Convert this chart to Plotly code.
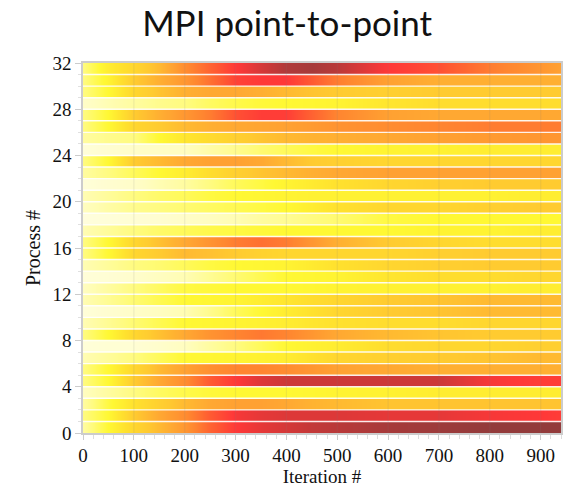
import numpy as np
import plotly.graph_objects as go

# iteration columns at which the colour of each process row was read
iterations = [0, 50, 100, 150, 200, 250, 300, 350, 400, 450, 500, 600, 700, 800, 900, 940]

# relative waiting time (0 = none, 1 = max) for process 0 .. 31
load = [
    [0.15, 0.30, 0.45, 0.55, 0.65, 0.78, 0.87, 0.90, 0.92, 0.94, 0.95, 0.97, 0.98, 0.99, 0.99, 0.99],  # 0
    [0.20, 0.30, 0.50, 0.60, 0.68, 0.80, 0.88, 0.90, 0.91, 0.91, 0.91, 0.90, 0.90, 0.88, 0.87, 0.86],  # 1
    [0.15, 0.28, 0.40, 0.48, 0.55, 0.60, 0.62, 0.62, 0.60, 0.57, 0.55, 0.52, 0.52, 0.52, 0.52, 0.52],  # 2
    [0.10, 0.15, 0.20, 0.24, 0.27, 0.29, 0.30, 0.30, 0.30, 0.31, 0.32, 0.33, 0.35, 0.35, 0.35, 0.35],  # 3
    [0.20, 0.30, 0.50, 0.60, 0.68, 0.80, 0.87, 0.91, 0.93, 0.93, 0.93, 0.93, 0.93, 0.88, 0.86, 0.86],  # 4
    [0.20, 0.30, 0.45, 0.55, 0.62, 0.67, 0.70, 0.70, 0.68, 0.65, 0.62, 0.60, 0.58, 0.58, 0.58, 0.58],  # 5
    [0.12, 0.16, 0.20, 0.25, 0.30, 0.31, 0.32, 0.33, 0.35, 0.40, 0.45, 0.48, 0.50, 0.52, 0.55, 0.55],  # 6
    [0.04, 0.05, 0.05, 0.07, 0.10, 0.15, 0.20, 0.25, 0.30, 0.33, 0.35, 0.42, 0.45, 0.45, 0.48, 0.48],  # 7
    [0.20, 0.30, 0.45, 0.53, 0.60, 0.66, 0.70, 0.73, 0.70, 0.65, 0.60, 0.55, 0.52, 0.50, 0.50, 0.50],  # 8
    [0.12, 0.17, 0.22, 0.26, 0.30, 0.31, 0.32, 0.33, 0.35, 0.38, 0.40, 0.42, 0.42, 0.45, 0.45, 0.45],  # 9
    [0.04, 0.06, 0.08, 0.10, 0.12, 0.18, 0.25, 0.30, 0.35, 0.40, 0.45, 0.50, 0.52, 0.55, 0.55, 0.55],  # 10
    [0.12, 0.17, 0.22, 0.26, 0.30, 0.31, 0.32, 0.35, 0.38, 0.42, 0.45, 0.50, 0.52, 0.55, 0.55, 0.55],  # 11
    [0.10, 0.15, 0.20, 0.24, 0.28, 0.29, 0.30, 0.30, 0.30, 0.31, 0.32, 0.33, 0.33, 0.33, 0.35, 0.35],  # 12
    [0.04, 0.05, 0.07, 0.10, 0.12, 0.17, 0.22, 0.26, 0.30, 0.31, 0.32, 0.38, 0.42, 0.42, 0.45, 0.45],  # 13
    [0.12, 0.16, 0.20, 0.22, 0.25, 0.28, 0.30, 0.31, 0.32, 0.36, 0.40, 0.45, 0.48, 0.50, 0.50, 0.50],  # 14
    [0.20, 0.30, 0.45, 0.50, 0.55, 0.53, 0.50, 0.47, 0.45, 0.45, 0.45, 0.45, 0.48, 0.50, 0.50, 0.50],  # 15
    [0.20, 0.30, 0.45, 0.53, 0.60, 0.66, 0.72, 0.75, 0.72, 0.65, 0.58, 0.50, 0.45, 0.42, 0.42, 0.42],  # 16
    [0.12, 0.16, 0.20, 0.23, 0.25, 0.27, 0.28, 0.29, 0.30, 0.30, 0.30, 0.30, 0.32, 0.32, 0.35, 0.35],  # 17
    [0.03, 0.04, 0.05, 0.06, 0.08, 0.10, 0.12, 0.15, 0.17, 0.20, 0.22, 0.28, 0.30, 0.30, 0.30, 0.30],  # 18
    [0.10, 0.14, 0.18, 0.20, 0.22, 0.24, 0.26, 0.28, 0.30, 0.35, 0.40, 0.45, 0.45, 0.48, 0.50, 0.50],  # 19
    [0.12, 0.16, 0.20, 0.23, 0.25, 0.28, 0.30, 0.31, 0.32, 0.33, 0.33, 0.33, 0.33, 0.33, 0.35, 0.35],  # 20
    [0.04, 0.06, 0.08, 0.12, 0.15, 0.20, 0.25, 0.28, 0.32, 0.36, 0.40, 0.45, 0.48, 0.50, 0.50, 0.50],  # 21
    [0.15, 0.20, 0.25, 0.30, 0.35, 0.42, 0.48, 0.52, 0.55, 0.58, 0.60, 0.62, 0.62, 0.62, 0.62, 0.62],  # 22
    [0.20, 0.30, 0.50, 0.55, 0.60, 0.62, 0.62, 0.60, 0.55, 0.50, 0.48, 0.45, 0.45, 0.45, 0.45, 0.45],  # 23
    [0.04, 0.06, 0.08, 0.09, 0.10, 0.14, 0.18, 0.22, 0.25, 0.28, 0.30, 0.32, 0.33, 0.35, 0.35, 0.35],  # 24
    [0.15, 0.18, 0.20, 0.30, 0.38, 0.43, 0.48, 0.52, 0.55, 0.57, 0.58, 0.60, 0.62, 0.64, 0.65, 0.65],  # 25
    [0.20, 0.30, 0.45, 0.50, 0.55, 0.58, 0.60, 0.61, 0.62, 0.64, 0.66, 0.68, 0.70, 0.72, 0.72, 0.72],  # 26
    [0.20, 0.30, 0.50, 0.58, 0.65, 0.72, 0.82, 0.86, 0.86, 0.78, 0.70, 0.62, 0.60, 0.60, 0.60, 0.60],  # 27
    [0.08, 0.12, 0.15, 0.18, 0.20, 0.24, 0.27, 0.29, 0.30, 0.31, 0.32, 0.38, 0.42, 0.42, 0.42, 0.42],  # 28
    [0.20, 0.30, 0.45, 0.52, 0.58, 0.60, 0.60, 0.58, 0.55, 0.52, 0.50, 0.48, 0.50, 0.50, 0.50, 0.50],  # 29
    [0.20, 0.32, 0.50, 0.58, 0.65, 0.75, 0.85, 0.87, 0.87, 0.80, 0.72, 0.62, 0.58, 0.58, 0.58, 0.58],  # 30
    [0.20, 0.35, 0.45, 0.55, 0.68, 0.78, 0.87, 0.92, 0.96, 0.97, 0.95, 0.87, 0.82, 0.72, 0.65, 0.62],  # 31
]

x_ticks = [0, 100, 200, 300, 400, 500, 600, 700, 800, 900]
y_ticks = [0, 4, 8, 12, 16, 20, 24, 28, 32]

colorscale = [
    [0.00, "#FFFEE8"],
    [0.10, "#FFFDC0"],
    [0.20, "#FFFB80"],
    [0.30, "#FFF833"],
    [0.40, "#FFE12E"],
    [0.50, "#FFCB30"],
    [0.60, "#FFA832"],
    [0.70, "#FF8530"],
    [0.80, "#FF5A32"],
    [0.87, "#FF3838"],
    [0.93, "#CC3838"],
    [1.00, "#8A3C3C"],
]

n_proc = len(load)
eps = 0.02
# two sample rows per process so that smoothing only blends along iterations
y_samples = []
for p in range(n_proc):
    y_samples += [p + eps, p + 1 - eps]
z = np.repeat(np.array(load), 2, axis=0)

fig = go.Figure(
    go.Heatmap(
        x=iterations,
        y=y_samples,
        z=z,
        zmin=0,
        zmax=1,
        zsmooth="best",
        colorscale=colorscale,
        showscale=False,
        hoverinfo="skip",
    )
)

shapes = []
for p in range(1, n_proc):
    shapes.append(dict(type="line", xref="paper", yref="y", x0=0, x1=1, y0=p, y1=p,
                       line=dict(color="rgba(255,255,255,0.9)", width=1.4), layer="above"))
for t in x_ticks[1:]:
    shapes.append(dict(type="line", xref="x", yref="paper", x0=t, x1=t, y0=0, y1=1,
                       line=dict(color="rgba(120,120,120,0.12)", width=1.2), layer="above"))

axis_font = dict(family="Liberation Serif", size=19, color="#111")
title_font = dict(family="Liberation Serif", size=19, color="#111")

fig.update_layout(
    width=563,
    height=487,
    margin=dict(l=83, r=0, t=63, b=54),
    paper_bgcolor="white",
    plot_bgcolor="white",
    shapes=shapes,
    title=dict(
        text="MPI point-to-point",
        font=dict(family="Lato", size=35, color="#111"),
        x=0.51, xref="container", xanchor="center",
        y=1 - 24 / 487, yref="container", yanchor="middle",
    ),
    xaxis=dict(
        range=[0, 940],
        tickvals=x_ticks,
        tickfont=axis_font,
        ticks="outside", ticklen=5, tickcolor="#cccccc",
        ticklabelstandoff=-1,
        minor=dict(dtick=20, ticks="outside", ticklen=4, tickcolor="#dddddd"),
        showgrid=False, zeroline=False,
        showline=True, linecolor="#cccccc", linewidth=1.5, mirror=True,
        title=dict(text="Iteration #", font=title_font, standoff=2),
    ),
    yaxis=dict(
        range=[0, 32],
        tickvals=y_ticks,
        tickfont=axis_font,
        ticks="outside", ticklen=6, tickcolor="#cccccc",
        minor=dict(dtick=1, ticks="outside", ticklen=3, tickcolor="#e0e0e0"),
        showgrid=False, zeroline=False,
        showline=True, linecolor="#cccccc", linewidth=1.5, mirror=True,
        title=dict(text="Process #", font=dict(family="Liberation Serif", size=20, color="#111"), standoff=6),
    ),
)

fig.write_html("out.html")
